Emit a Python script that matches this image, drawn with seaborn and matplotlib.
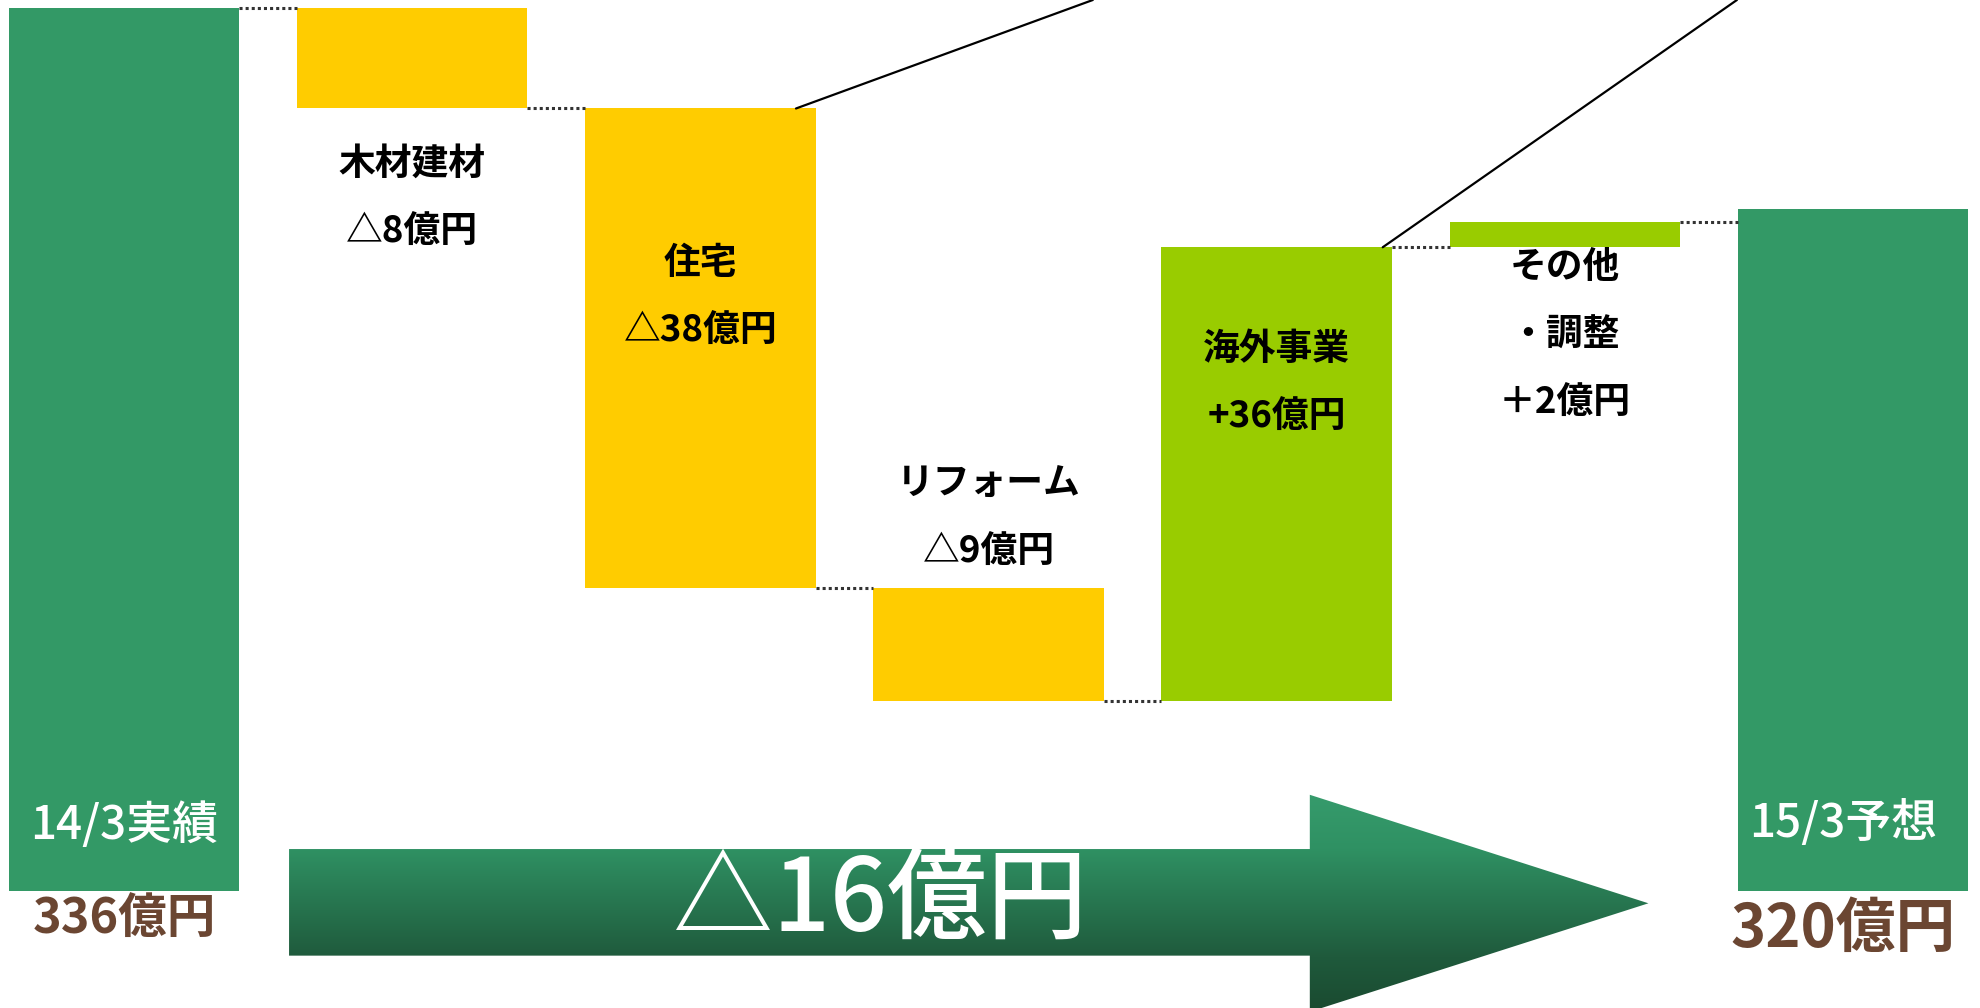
import numpy as np
import pandas as pd
import matplotlib
matplotlib.use("Agg")
import matplotlib.pyplot as plt
from matplotlib.colors import LinearSegmentedColormap
from matplotlib.patches import Polygon
import seaborn as sns

# ---- data -------------------------------------------------------------
steps = ["14/3実績", "木材建材", "住宅", "リフォーム", "海外事業", "その他・調整", "15/3予想"]
start_total = 336          # 億円
end_total = 320            # 億円
deltas = [-8, -38, -9, 36, 2]
delta_names = ["木材建材", "住宅", "リフォーム", "海外事業", "その他\n・調整"]
delta_signs = ["△", "△", "△", "+", "＋"]
axis_floor = 266           # bars for the totals start from this level

bar_colors = ["#339966", "#FFCC00", "#FFCC00", "#FFCC00", "#99CC00", "#99CC00", "#339966"]

# ---- waterfall geometry ----------------------------------------------
levels = [start_total]
for d in deltas:
    levels.append(levels[-1] + d)
bottoms, heights = [axis_floor], [start_total - axis_floor]
for i, d in enumerate(deltas):
    lo, hi = sorted((levels[i], levels[i + 1]))
    bottoms.append(lo)
    heights.append(hi - lo)
bottoms.append(axis_floor)
heights.append(end_total - axis_floor)

df = pd.DataFrame({"step": steps, "height": heights, "bottom": bottoms})

# ---- figure -----------------------------------------------------------
sns.set_theme(style="white")
plt.rcParams["font.family"] = ["Noto Sans CJK JP", "DejaVu Sans"]

fig = plt.figure(figsize=(19.81, 10.08), dpi=100)
ax = fig.add_axes([0, 0, 1, 1])

BAR_W = 0.8
sns.barplot(data=df, x="step", y="height", hue="step", order=steps,
            hue_order=steps, palette=bar_colors, saturation=1, width=BAR_W,
            errorbar=None, legend=False, linewidth=0, ax=ax)
for patch, b in zip(ax.patches, df["bottom"]):
    patch.set_y(b)

XLIM, YLIM = (-0.43, 6.444), (256.7, 336.6)
ax.set_xlim(*XLIM)
ax.set_ylim(*YLIM)
ax.axis("off")

# dotted connectors between neighbouring bars
for i in range(len(steps) - 1):
    y = levels[i] if i < len(levels) else end_total
    ax.plot([i + BAR_W / 2, i + 1 - BAR_W / 2], [y, y], color="#333333",
            lw=2.2, ls=(0, (1, 1)), solid_capstyle="butt", zorder=3)

# thin callout leaders leaving the top edge
y_top = YLIM[1]
for idx, dx0, dx1 in [(2, 0.332, 1.362), (4, 0.368, 1.597)]:
    top = bottoms[idx] + heights[idx]
    ax.plot([idx + dx0, idx + dx1], [top, y_top], color="black", lw=1.6,
            zorder=4, clip_on=False)

# change labels
label_y = [323.6, 315.7, 298.2, 308.9, 315.4]
LINE_PT = 49
for i, (name, d, sgn, y) in enumerate(zip(delta_names, deltas, delta_signs, label_y)):
    lines = name.split("\n") + [f"{sgn}{abs(d)}億円"]
    for k, line in enumerate(lines):
        ax.annotate(line, xy=(i + 1, y), xytext=(0, -k * LINE_PT),
                    textcoords="offset points", ha="center", va="center",
                    fontsize=26.5, fontweight="bold", color="black", zorder=6)

# totals
ax.text(0, 271.2, steps[0], ha="center", va="center", fontsize=33,
        fontweight="medium", color="white", zorder=6)
ax.text(6 - 0.035, 271.3, steps[-1], ha="center", va="center", fontsize=33,
        fontweight="medium", color="white", zorder=6)
ax.text(0, 263.8, f"{start_total}億円", ha="center", va="center",
        fontsize=35, fontweight="bold", color="#6B4632", zorder=6)
ax.text(6 - 0.035, 262.9, f"{end_total}億円", ha="center", va="center",
        fontsize=43, fontweight="bold", color="#6B4632", zorder=6)

# gradient arrow for the overall change
x0, xb, xt = 0.573, 4.115, 5.29
b_lo, b_hi = 260.85, 269.3
h_lo, h_hi = 256.4, 273.6
tip_y = (h_lo + h_hi) / 2
verts = [(x0, b_lo), (x0, b_hi), (xb, b_hi), (xb, h_hi), (xt, tip_y),
         (xb, h_lo), (xb, b_lo)]
arrow = Polygon(verts, closed=True, facecolor="none", edgecolor="none")
ax.add_patch(arrow)
cmap = LinearSegmentedColormap.from_list(
    "arrow_green",
    [(0.0, "#369B6C"), (0.25, "#2F9163"), (0.75, "#1F5A3C"), (1.0, "#1A4A30")])
grad = np.linspace(0, 1, 256).reshape(-1, 1)
img = ax.imshow(grad, cmap=cmap, aspect="auto", origin="upper",
                extent=(x0, xt, h_lo, h_hi), zorder=2, interpolation="bilinear")
img.set_clip_path(arrow)
ax.set_xlim(*XLIM)
ax.set_ylim(*YLIM)

ax.text(2.623, 265.05, f"△{start_total - end_total}億円", ha="center",
        va="center", fontsize=72, fontweight="medium", color="white", zorder=6)

fig.savefig("out.png", dpi=100, facecolor="white")
